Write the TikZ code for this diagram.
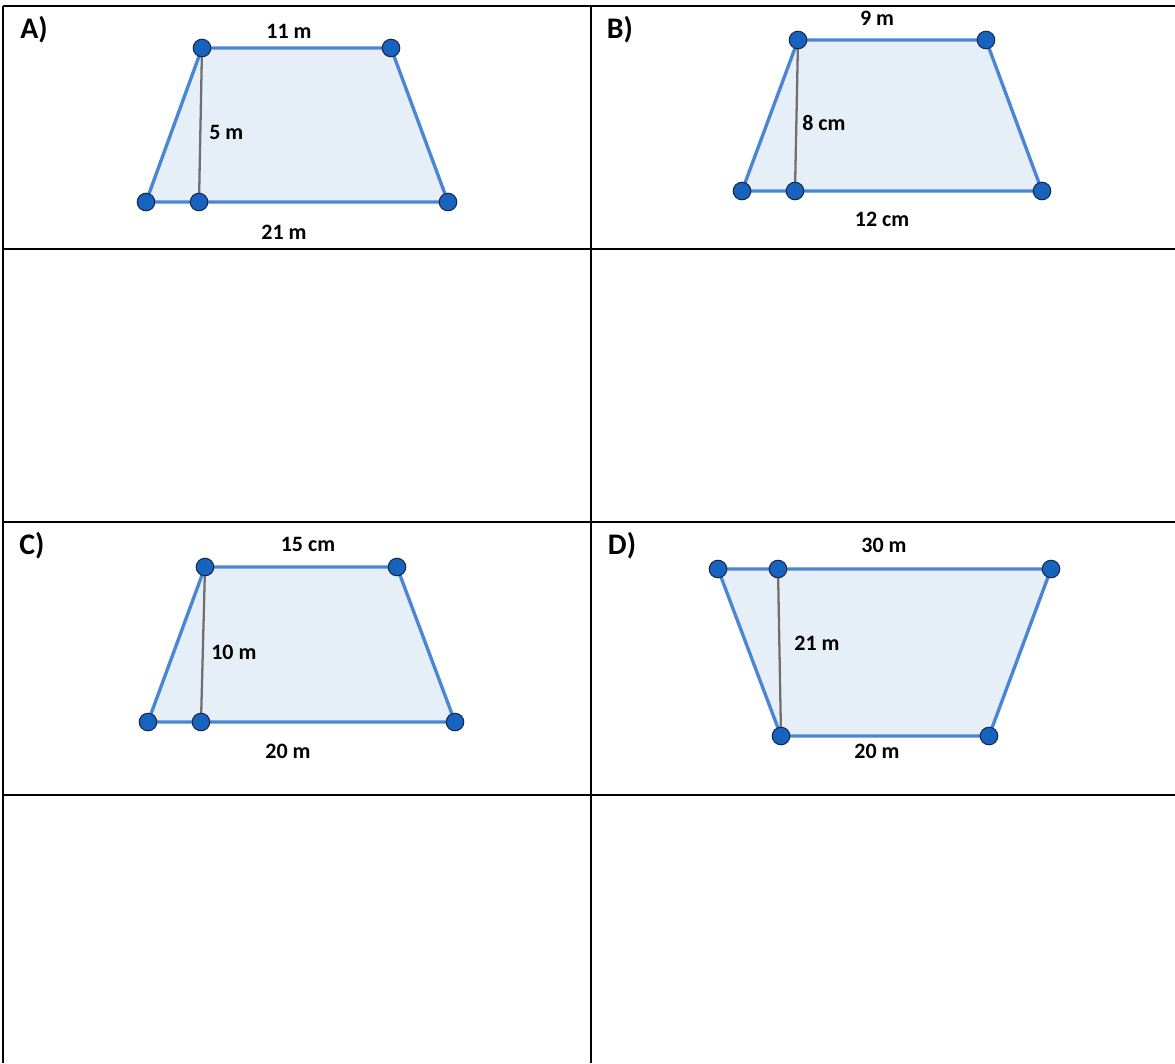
\documentclass[tikz,border=0pt]{standalone}
\usepackage{fontspec}
\setmainfont{Carlito}
\definecolor{edgeblue}{RGB}{74,134,212}
\definecolor{areablue}{RGB}{230,238,248}
\definecolor{dotblue}{RGB}{22,100,192}
\definecolor{dotrim}{RGB}{30,40,70}
\definecolor{heightgray}{RGB}{112,112,112}
\begin{document}
\begin{tikzpicture}[x=0.02cm,y=-0.02cm,
    cell/.style={black, line width=1.4pt},
    side/.style={edgeblue, line width=1.9pt, line join=round},
    alt/.style={heightgray, line width=1.3pt},
    dot/.style={circle, fill=dotblue, draw=dotrim, line width=0.6pt, minimum size=10pt, inner sep=0pt},
    lbl/.style={font=\bfseries\fontsize{12.5}{14}\selectfont, inner sep=0pt},
    tag/.style={font=\bfseries\fontsize{17}{20}\selectfont, inner sep=0pt}]
        \useasboundingbox (0,0) rectangle (1175,1063);

        % Table
        \foreach \y in {6,249,522,795} \draw[cell] (3,\y) -- (1175,\y);
        \foreach \x in {3,591} \draw[cell] (\x,6) -- (\x,1063);

        % Trapezium A
        \coordinate (A1) at (146,202);
        \coordinate (A2) at (448,202);
        \coordinate (A3) at (391,48);
        \coordinate (A4) at (202,48);
        \coordinate (Ah) at (199,202);
        \fill[areablue] (A1) -- (A2) -- (A3) -- (A4) -- cycle;
        \draw[side] (A1) -- (A2) -- (A3) -- (A4) -- cycle;
        \draw[alt] (A4) -- (Ah);
        \foreach \p in {A1,A2,A3,A4,Ah} \node[dot] at (\p) {};
        \node[tag] (tA) at (34,30) {A)};
        \node[lbl] (aTop) at (289,31) {11 m};
        \node[lbl, anchor=west] (aH) at (209,132) {5 m};
        \node[lbl] (aBot) at (284,232) {21 m};

        % Trapezium B
        \coordinate (B1) at (742,191);
        \coordinate (B2) at (1042,191);
        \coordinate (B3) at (986,40);
        \coordinate (B4) at (798,40);
        \coordinate (Bh) at (795,191);
        \fill[areablue] (B1) -- (B2) -- (B3) -- (B4) -- cycle;
        \draw[side] (B1) -- (B2) -- (B3) -- (B4) -- cycle;
        \draw[alt] (B4) -- (Bh);
        \foreach \p in {B1,B2,B3,B4,Bh} \node[dot] at (\p) {};
        \node[tag] (tB) at (620,30) {B)};
        \node[lbl] (bTop) at (877,18) {9 m};
        \node[lbl, anchor=west] (bH) at (802,123) {8 cm};
        \node[lbl] (bBot) at (882,219) {12 cm};

        % Trapezium C
        \coordinate (C1) at (148,722);
        \coordinate (C2) at (455,722);
        \coordinate (C3) at (397,567);
        \coordinate (C4) at (205,567);
        \coordinate (Ch) at (201,722);
        \fill[areablue] (C1) -- (C2) -- (C3) -- (C4) -- cycle;
        \draw[side] (C1) -- (C2) -- (C3) -- (C4) -- cycle;
        \draw[alt] (C4) -- (Ch);
        \foreach \p in {C1,C2,C3,C4,Ch} \node[dot] at (\p) {};
        \node[tag] (tC) at (32,546) {C)};
        \node[lbl] (cTop) at (308,544) {15 cm};
        \node[lbl, anchor=west] (cH) at (211,652) {10 m};
        \node[lbl] (cBot) at (288,751) {20 m};

        % Trapezium D
        \coordinate (D1) at (781,736);
        \coordinate (D2) at (989,736);
        \coordinate (D3) at (1051,569);
        \coordinate (D4) at (718,569);
        \coordinate (Dh) at (778,569);
        \fill[areablue] (D1) -- (D2) -- (D3) -- (D4) -- cycle;
        \draw[side] (D1) -- (D2) -- (D3) -- (D4) -- cycle;
        \draw[alt] (Dh) -- (D1);
        \foreach \p in {D1,D2,D3,D4,Dh} \node[dot] at (\p) {};
        \node[tag] (tD) at (622,546) {D)};
        \node[lbl] (dTop) at (884,545) {30 m};
        \node[lbl, anchor=west] (dH) at (794,643) {21 m};
        \node[lbl] (dBot) at (877,751) {20 m};
    \end{tikzpicture}
\end{document}
